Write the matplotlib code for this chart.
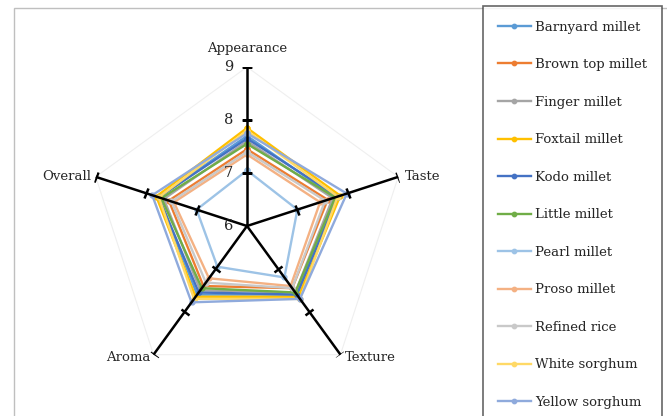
import numpy as np
import matplotlib
matplotlib.use("Agg")
import matplotlib.pyplot as plt
from matplotlib.markers import MarkerStyle
from matplotlib.transforms import Affine2D
from matplotlib.patches import Rectangle

categories = ["Appearance", "Taste", "Texture", "Aroma", "Overall"]
series_names = ["Barnyard millet", "Brown top millet", "Finger millet", "Foxtail millet",
                "Kodo millet", "Little millet", "Pearl millet", "Proso millet",
                "Refined rice", "White sorghum", "Yellow sorghum"]
barnyard = [7.70, 7.75, 7.60, 7.60, 7.75]
brown_top = [7.45, 7.60, 7.45, 7.40, 7.55]
finger = [7.60, 7.70, 7.55, 7.50, 7.65]
foxtail = [7.85, 7.85, 7.65, 7.65, 7.80]
kodo = [7.65, 7.80, 7.60, 7.55, 7.75]
little = [7.55, 7.75, 7.55, 7.45, 7.70]
pearl = [7.05, 7.00, 7.20, 6.95, 7.00]
proso = [7.35, 7.45, 7.40, 7.22, 7.45]
refined_rice = [7.40, 7.55, 7.45, 7.32, 7.50]
white_sorghum = [7.80, 7.80, 7.70, 7.70, 7.75]
yellow_sorghum = [7.75, 7.98, 7.70, 7.78, 7.88]
tick_values = [6, 7, 8, 9]

series_values = [barnyard, brown_top, finger, foxtail, kodo, little, pearl,
                 proso, refined_rice, white_sorghum, yellow_sorghum]
colors = ["#5B9BD5", "#ED7D31", "#A5A5A5", "#FFC000", "#4472C4", "#70AD47",
          "#9DC3E6", "#F4B183", "#C9C9C9", "#FFD966", "#8FAADC"]

plt.rcParams['font.family'] = ['DejaVu Serif']

W, H = 667, 416
fig = plt.figure(figsize=(W / 100, H / 100), dpi=100)

# outer chart frame
fig.patches.append(Rectangle((14 / W, -0.1), (700 - 14) / W, 1.1 - 8 / H,
                             transform=fig.transFigure, fill=False,
                             edgecolor="#BFBFBF", linewidth=1.0, zorder=0))

cx, cy, R = 247, 226, 159
ax = fig.add_axes([(cx - R) / W, (H - cy - R) / H, 2 * R / W, 2 * R / H], polar=True)
ax.set_theta_offset(np.pi / 2)
ax.set_theta_direction(-1)
ax.set_ylim(6, 9)
ax.set_facecolor("none")
ax.grid(False)
ax.spines['polar'].set_visible(False)
ax.set_xticks([])
ax.set_yticks([])

n = len(categories)
angles = np.arange(n) * 2 * np.pi / n
closed = np.append(angles, angles[0])

# faint outer grid pentagon
ax.plot(closed, [tick_values[-1]] * (n + 1), color="#EFEFEF", lw=0.8, zorder=1)

# series
for name, vals, c in zip(series_names, series_values, colors):
    v = list(vals) + [vals[0]]
    ax.plot(closed, v, color=c, lw=1.7, marker='o', markersize=3.5, label=name, zorder=3)

# axis lines with tick marks
for i, a in enumerate(angles):
    ax.plot([a, a], [tick_values[0], tick_values[-1]], color="black", lw=1.8, zorder=4)
    rot = -np.degrees(a)
    ms = MarkerStyle('_', transform=Affine2D().rotate_deg(rot))
    ax.plot([a] * (len(tick_values) - 1), tick_values[1:], linestyle='none',
            marker=ms, markersize=7, markeredgewidth=1.8, color="black", zorder=4)

# radial tick labels
for t in tick_values:
    ax.annotate(str(t), xy=(0, t), xytext=(-10, 0), textcoords="offset points",
                ha="right", va="center", fontsize=10.5, color="#262626", zorder=5)

# category labels
lab_pos = {
    "Appearance": dict(offset=(0, 9), ha="center", va="bottom"),
    "Taste": dict(offset=(5, 0), ha="left", va="center"),
    "Texture": dict(offset=(3, -2), ha="left", va="center"),
    "Aroma": dict(offset=(-2, -2), ha="right", va="center"),
    "Overall": dict(offset=(-3, 0), ha="right", va="center"),
}
for a, cat in zip(angles, categories):
    p = lab_pos[cat]
    ax.annotate(cat, xy=(a, tick_values[-1]), xytext=p["offset"], textcoords="offset points",
                ha=p["ha"], va=p["va"], fontsize=9.5, color="#262626", annotation_clip=False)

handles, labels = ax.get_legend_handles_labels()
leg = fig.legend(handles, labels, loc="upper left", bbox_to_anchor=(483 / W, 1 - 6 / H),
                 frameon=True, fancybox=False, edgecolor="#404040", fontsize=9.5,
                 labelspacing=1.86, handlelength=2.5, handletextpad=0.35,
                 borderpad=1.1, borderaxespad=0, markerscale=0.9)
leg.get_frame().set_linewidth(1.2)
for t in leg.get_texts():
    t.set_color("#262626")

fig.savefig("out.png", dpi=100)
